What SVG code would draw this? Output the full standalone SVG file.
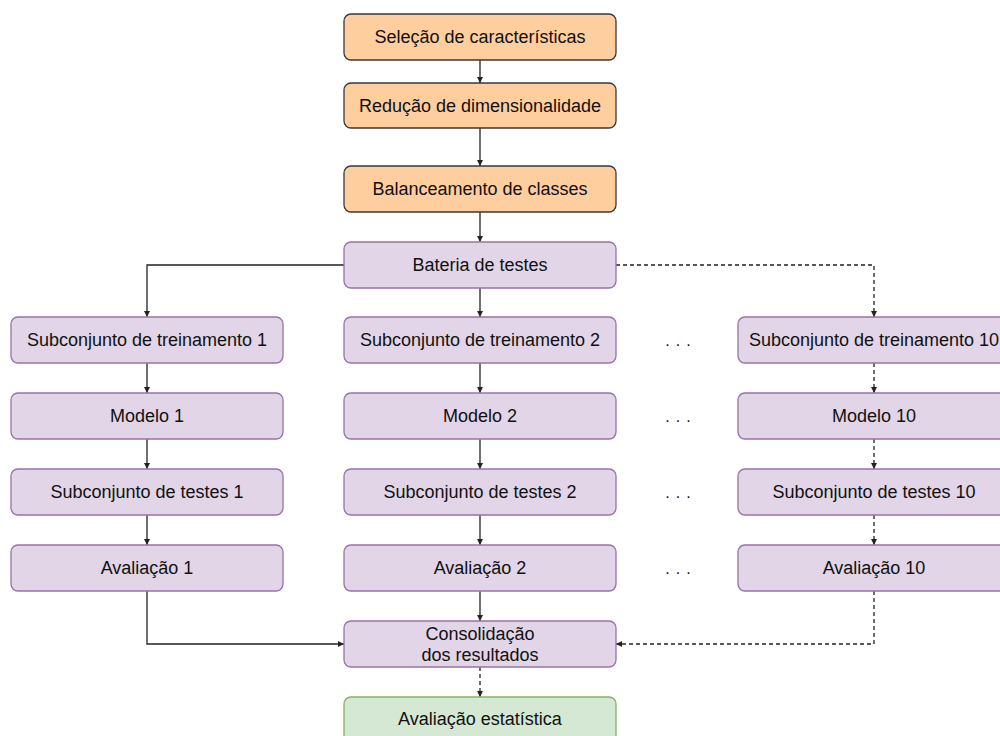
<svg xmlns="http://www.w3.org/2000/svg" width="1000" height="736" viewBox="0 0 1000 736">
  <style>
    .node rect { stroke-width: 1.3; }
    .prep rect { fill: #ffce9f; stroke: #36393d; }
    .step rect { fill: #e1d5e7; stroke: #9673a6; }
    .final rect { fill: #d5e8d4; stroke: #82b366; }
    text { font-family: "Liberation Sans", Arial, sans-serif; font-size: 18px; fill: #111; text-anchor: middle; dominant-baseline: central; }
    .dots { letter-spacing: 6px; font-size: 16px; }
    .edge { fill: none; stroke: #222; stroke-width: 1.3; marker-end: url(#arrow); }
    .dashed { stroke-dasharray: 4 3; }
  </style>
  <defs>
    <marker id="arrow" viewBox="0 0 8 8" refX="8" refY="4" markerWidth="6" markerHeight="6" markerUnits="userSpaceOnUse" orient="auto">
      <path d="M0,0 L8,4 L0,8 z" fill="#222"/>
    </marker>
  </defs>
  <rect width="1000" height="736" fill="#ffffff"/>

  <!-- connectors -->
  <g id="connectors">
    <path class="edge" d="M480,60 V83"/>
    <path class="edge" d="M480,128 V166"/>
    <path class="edge" d="M480,212 V242"/>
    <path class="edge" d="M344,265 H147 V317"/>
    <path class="edge" d="M480,288 V317"/>
    <path class="edge dashed" d="M616,265 H874 V317"/>
    <path class="edge" d="M147,363 V393"/>
    <path class="edge" d="M480,363 V393"/>
    <path class="edge dashed" d="M874,363 V393"/>
    <path class="edge" d="M147,439 V469"/>
    <path class="edge" d="M480,439 V469"/>
    <path class="edge dashed" d="M874,439 V469"/>
    <path class="edge" d="M147,515 V545"/>
    <path class="edge" d="M480,515 V545"/>
    <path class="edge dashed" d="M874,515 V545"/>
    <path class="edge" d="M147,591 V644 H344"/>
    <path class="edge" d="M480,591 V621"/>
    <path class="edge dashed" d="M874,591 V644 H616"/>
    <path class="edge dashed" d="M480,667 V697"/>
  </g>

  <!-- preprocessing -->
  <g id="selecao" class="node prep"><rect x="344" y="14" width="272" height="46" rx="7"/><text x="480" y="37">Seleção de características</text></g>
  <g id="reducao" class="node prep"><rect x="344" y="83" width="272" height="45" rx="7"/><text x="480" y="105.5">Redução de dimensionalidade</text></g>
  <g id="balanceamento" class="node prep"><rect x="344" y="166" width="272" height="46" rx="7"/><text x="480" y="189">Balanceamento de classes</text></g>

  <g id="bateria" class="node step"><rect x="344" y="242" width="272" height="46" rx="7"/><text x="480" y="265">Bateria de testes</text></g>

  <!-- column 1 -->
  <g id="treino1" class="node step"><rect x="11" y="317" width="272" height="46" rx="7"/><text x="147" y="340">Subconjunto de treinamento 1</text></g>
  <g id="modelo1" class="node step"><rect x="11" y="393" width="272" height="46" rx="7"/><text x="147" y="416">Modelo 1</text></g>
  <g id="testes1" class="node step"><rect x="11" y="469" width="272" height="46" rx="7"/><text x="147" y="492">Subconjunto de testes 1</text></g>
  <g id="avaliacao1" class="node step"><rect x="11" y="545" width="272" height="46" rx="7"/><text x="147" y="568">Avaliação 1</text></g>

  <!-- column 2 -->
  <g id="treino2" class="node step"><rect x="344" y="317" width="272" height="46" rx="7"/><text x="480" y="340">Subconjunto de treinamento 2</text></g>
  <g id="modelo2" class="node step"><rect x="344" y="393" width="272" height="46" rx="7"/><text x="480" y="416">Modelo 2</text></g>
  <g id="testes2" class="node step"><rect x="344" y="469" width="272" height="46" rx="7"/><text x="480" y="492">Subconjunto de testes 2</text></g>
  <g id="avaliacao2" class="node step"><rect x="344" y="545" width="272" height="46" rx="7"/><text x="480" y="568">Avaliação 2</text></g>

  <!-- column 10 -->
  <g id="treino10" class="node step"><rect x="738" y="317" width="272" height="46" rx="7"/><text x="874" y="340">Subconjunto de treinamento 10</text></g>
  <g id="modelo10" class="node step"><rect x="738" y="393" width="272" height="46" rx="7"/><text x="874" y="416">Modelo 10</text></g>
  <g id="testes10" class="node step"><rect x="738" y="469" width="272" height="46" rx="7"/><text x="874" y="492">Subconjunto de testes 10</text></g>
  <g id="avaliacao10" class="node step"><rect x="738" y="545" width="272" height="46" rx="7"/><text x="874" y="568">Avaliação 10</text></g>

  <!-- ellipsis between columns -->
  <g id="ellipsis">
    <text class="dots" x="681" y="340">...</text>
    <text class="dots" x="681" y="416">...</text>
    <text class="dots" x="681" y="492">...</text>
    <text class="dots" x="681" y="568">...</text>
  </g>

  <g id="consolidacao" class="node step"><rect x="344" y="621" width="272" height="46" rx="7"/><text x="480" y="634">Consolidação</text><text x="480" y="655">dos resultados</text></g>

  <g id="estatistica" class="node final"><rect x="344" y="697" width="272" height="46" rx="7"/><text x="480" y="719">Avaliação estatística</text></g>
</svg>
